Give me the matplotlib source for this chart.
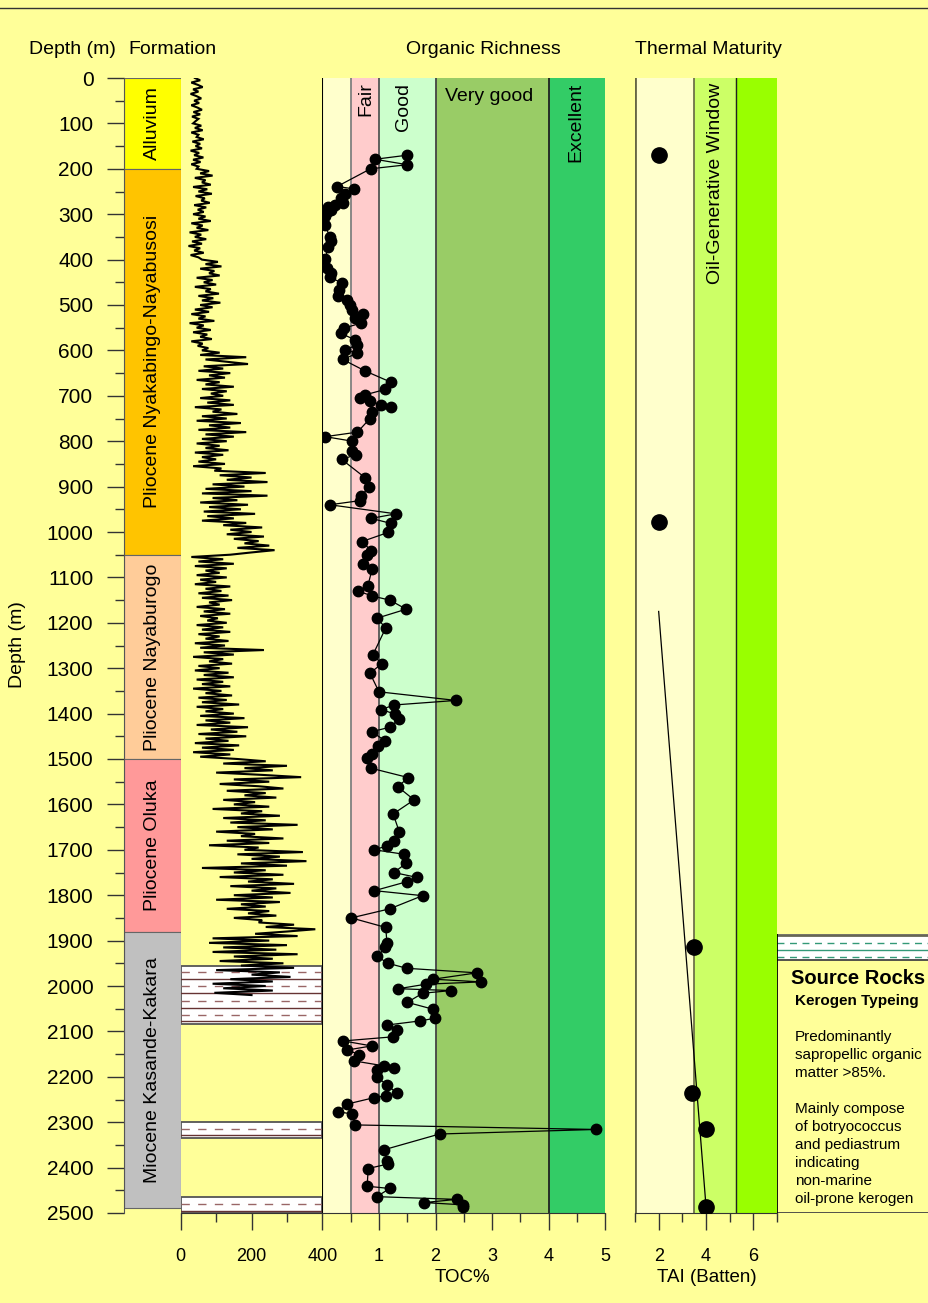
import matplotlib.pyplot as plt
from matplotlib.lines import Line2D
import numpy as np

plt.rcParams['font.family'] = ['Liberation Sans', 'DejaVu Sans']

BG = '#FFFF99'
W, H = 929, 1303

# formations (depth in m)
formation_names = ['Alluvium', 'Pliocene Nyakabingo-Nayabusosi', 'Pliocene Nayaburogo',
                   'Pliocene Oluka', 'Miocene Kasande-Kakara']
formation_top = [0, 200, 1050, 1500, 1880]
formation_base = [200, 1050, 1500, 1880, 2490]
formation_colors = ['#FFFF00', '#FFC400', '#FFCC99', '#FF9999', '#C0C0C0']

# gamma ray log, API, sampled every 5 m from surface
gr_start = 0
gr_step = 5
gr_api = [
    40, 55, 30, 48, 62, 35, 50, 28, 45, 58, 38, 52, 30, 47, 60, 36, 55, 32, 50, 42,
    35, 58, 40, 62, 30, 50, 45, 65, 33, 55, 42, 60, 28, 52, 38, 64, 35, 56, 30, 50,
    45, 80, 55, 90, 40, 70, 60, 85, 35, 75, 50, 88, 42, 68, 58, 82, 38, 72, 48, 65,
    35, 70, 50, 85, 30, 62, 45, 78, 25, 58, 40, 72, 32, 60, 22, 55, 38, 65, 28, 50,
    60, 105, 70, 115, 55, 95, 80, 110, 45, 90, 65, 100, 40, 85, 70, 108, 50, 92, 60, 112,
    55, 90, 40, 80, 30, 70, 50, 95, 25, 65, 45, 85, 35, 75, 55, 88, 30, 62, 48, 78,
    60, 110, 55, 185, 70, 130, 190, 65, 120, 50, 140, 80, 125, 45, 110, 70, 150, 60, 130, 85,
    120, 55, 140, 75, 150, 40, 115, 90, 160, 60, 130, 45, 170, 80, 140, 50, 185, 70, 150, 60,
    130, 45, 110, 70, 135, 40, 120, 60, 100, 50, 125, 35, 115, 95, 240, 110, 200, 130, 245, 90,
    180, 70, 200, 60, 245, 90, 160, 55, 190, 80, 170, 65, 210, 75, 150, 60, 185, 120, 230, 140,
    200, 130, 235, 150, 220, 180, 250, 160, 265, 200, 140, 30, 120, 50, 150, 40, 130, 70, 110, 45,
    130, 55, 100, 40, 140, 70, 115, 50, 135, 60, 145, 80, 110, 45, 125, 65, 140, 55, 105, 75,
    130, 45, 120, 60, 140, 50, 110, 70, 135, 40, 125, 55, 235, 65, 150, 35, 120, 80, 145, 50,
    110, 40, 135, 65, 150, 45, 120, 60, 140, 35, 115, 70, 145, 50, 130, 60, 165, 45, 120, 70,
    150, 55, 180, 70, 140, 45, 190, 85, 160, 50, 185, 70, 135, 40, 165, 60, 150, 35, 140, 55,
    160, 240, 120, 300, 180, 260, 100, 230, 340, 150, 250, 110, 220, 290, 130, 240, 180, 270, 120, 210,
    150, 250, 90, 230, 170, 280, 120, 240, 140, 330, 160, 260, 100, 210, 170, 290, 130, 250, 80, 220,
    180, 345, 160, 280, 200, 355, 170, 300, 60, 240, 150, 290, 110, 260, 190, 320, 140, 270, 200, 310,
    150, 260, 100, 280, 170, 240, 130, 250, 190, 270, 150, 230, 220, 320, 240, 380, 300, 210, 330, 90,
    250, 80, 300, 120, 270, 90, 330, 150, 260, 110, 290, 170, 320, 100, 280, 200, 310, 140, 260, 90,
    240, 120, 260, 95, 200,
]

# shale intervals drawn in the log track
shale_top = [1957, 2300, 2465]
shale_base = [2083, 2335, 2500]
shale_dash = [1970, 2000, 2033, 2064, 2315, 2481]
shale_solid = [1985, 2016, 2048, 2078, 2328, 2495]

# total organic carbon
toc_depth = [170, 179, 191, 200, 239, 244, 256, 265, 275, 280, 285, 290, 296, 305, 324,
             350, 360, 372, 399, 419, 429, 439, 451, 467, 480, 490, 500, 510, 520, 529,
             540, 551, 562, 577, 588, 599, 606, 620, 645, 670, 686, 698, 705, 711, 720,
             725, 735, 750, 780, 790, 800, 821, 830, 840, 880, 900, 921, 931, 940, 960,
             970, 981, 1001, 1021, 1041, 1051, 1070, 1081, 1120, 1130, 1141, 1150, 1170,
             1190, 1211, 1271, 1290, 1311, 1352, 1371, 1381, 1391, 1401, 1412, 1430, 1440,
             1460, 1471, 1490, 1498, 1520, 1541, 1561, 1590, 1621, 1661, 1681, 1691, 1700,
             1710, 1730, 1750, 1761, 1770, 1790, 1801, 1830, 1850, 1871, 1906, 1915, 1935,
             1950, 1961, 1971, 1985, 1991, 1996, 2006, 2010, 2016, 2036, 2051, 2071, 2077,
             2086, 2097, 2112, 2121, 2132, 2141, 2151, 2165, 2176, 2181, 2185, 2201, 2217,
             2236, 2242, 2246, 2260, 2277, 2282, 2306, 2316, 2326, 2361, 2385, 2392, 2402,
             2441, 2446, 2464, 2470, 2477, 2482, 2487]
toc_pct = [1.50, 0.93, 1.50, 0.85, 0.26, 0.55, 0.40, 0.32, 0.37, 0.22, 0.10, 0.16, 0.08, 0.05, 0.05,
           0.13, 0.16, 0.10, 0.05, 0.09, 0.16, 0.13, 0.34, 0.30, 0.28, 0.43, 0.49, 0.53, 0.71, 0.58,
           0.68, 0.38, 0.32, 0.58, 0.61, 0.40, 0.62, 0.36, 0.75, 1.21, 1.11, 0.75, 0.66, 0.84, 1.03,
           1.21, 0.87, 0.84, 0.62, 0.05, 0.53, 0.52, 0.59, 0.34, 0.75, 0.82, 0.69, 0.66, 0.13, 1.30,
           0.86, 1.21, 1.16, 0.70, 0.86, 0.78, 0.72, 0.88, 0.80, 0.63, 0.88, 1.19, 1.48,
           0.96, 1.12, 0.89, 1.05, 0.84, 1.00, 2.36, 1.27, 1.04, 1.28, 1.36, 1.19, 0.87,
           1.11, 0.99, 0.87, 0.78, 0.85, 1.52, 1.33, 1.62, 1.25, 1.36, 1.26, 1.15, 0.92,
           1.45, 1.48, 1.26, 1.68, 1.50, 0.92, 1.77, 1.19, 0.51, 1.12, 1.14, 1.11, 0.97,
           1.16, 1.49, 2.73, 1.96, 2.80, 1.83, 1.34, 2.28, 1.77, 1.50, 1.95, 1.99, 1.72,
           1.14, 1.31, 1.24, 0.37, 0.87, 0.44, 0.65, 0.56, 1.09, 1.27, 0.97, 0.96, 1.14,
           1.31, 1.12, 0.91, 0.44, 0.28, 0.53, 0.58, 4.83, 2.07, 1.08, 1.15, 1.16, 0.81,
           0.79, 1.19, 0.96, 2.37, 1.80, 2.48, 2.48]

toc_edges = [0, 0.5, 1, 2, 4, 5]
toc_colors = ['#FFFFCC', '#FFCCCC', '#CCFFCC', '#99CC66', '#33CC66']
toc_lines = ['#808080', '#555555', '#444444', '#222222']

# thermal alteration index
tai_depth = [170, 978, 1914, 2236, 2315, 2487]
tai_value = [2.0, 2.0, 3.5, 3.4, 4.0, 4.0]
tai_trend_depth = [1175, 2485]
tai_trend_value = [2.0, 4.0]
tai_edges = [1, 3.5, 5.25, 7]
tai_colors = ['#FFFFCC', '#CCFF66', '#99FF00']

source_notes = ['Predominantly', 'sapropellic organic', 'matter >85%.', '',
                'Mainly compose', 'of botryococcus', 'and pediastrum', 'indicating',
                'non-marine', 'oil-prone kerogen']

fig = plt.figure(figsize=(W / 100, H / 100), dpi=100, facecolor=BG)


def track(x0, x1, y0=78, y1=1213):
    ax = fig.add_axes([x0 / W, 1 - y1 / H, (x1 - x0) / W, (y1 - y0) / H])
    ax.set_facecolor('none')
    ax.set_ylim(2500, 0)
    for s in ax.spines.values():
        s.set_visible(False)
    return ax


def bottom_ticks(ax, major, labels, minor):
    ax.set_yticks([])
    ax.set_xticks(major)
    ax.set_xticklabels(labels)
    ax.set_xticks(minor, minor=True)
    ax.tick_params(axis='x', which='major', length=12, width=1, pad=13,
                   labelsize=13, color='#333333')
    ax.tick_params(axis='x', which='minor', length=6.5, width=1, color='#333333')
    ax.spines['bottom'].set_visible(True)
    ax.spines['bottom'].set_color('#333333')
    ax.spines['bottom'].set_linewidth(0.8)


# depth + formation column
ax_f = track(124, 180.7)
ax_f.set_xlim(0, 1)
ax_f.bar(0.5, np.subtract(formation_base, formation_top), bottom=formation_top, width=1,
         color=formation_colors, edgecolor='#666666', linewidth=0.8)
for name, top, base in zip(formation_names, formation_top, formation_base):
    ax_f.text(0.5, (top + base) / 2, name, rotation=90, ha='center', va='center', fontsize=14)
ax_f.set_xticks([])
ax_f.set_yticks(np.arange(0, 2501, 100))
ax_f.set_yticks(np.arange(0, 2501, 50), minor=True)
ax_f.tick_params(axis='y', which='major', length=12, width=1, pad=10, labelsize=15,
                 color='#333333')
ax_f.tick_params(axis='y', which='minor', length=6.5, width=1, color='#333333')
ax_f.spines['left'].set_visible(True)
ax_f.spines['left'].set_color('#555555')

# gamma ray track
ax_g = track(180.7, 322.4)
ax_g.set_xlim(0, 400)
gr_depth = gr_start + gr_step * np.arange(len(gr_api))
for top, base in zip(shale_top, shale_base):
    ax_g.axhspan(top, base, facecolor='white', edgecolor='#555555', linewidth=1.3, zorder=1)
for d in shale_dash:
    ax_g.axhline(d, color='#996666', linestyle=(0, (6, 6)), linewidth=1, zorder=1.5)
for d in shale_solid:
    ax_g.axhline(d, color='#663333', linewidth=1, zorder=1.5)
ax_g.plot(gr_api, gr_depth, color='black', linewidth=1.5, solid_joinstyle='miter', zorder=3)
bottom_ticks(ax_g, [0, 200, 400], ['0', '200', '400'], [100, 300])

# organic richness track
ax_t = track(322.4, 605.4)
ax_t.set_xlim(0, 5)
for lo, hi, c in zip(toc_edges[:-1], toc_edges[1:], toc_colors):
    ax_t.axvspan(lo, hi, color=c, zorder=0)
for x, c in zip(toc_edges[1:-1], toc_lines):
    ax_t.axvline(x, color=c, linewidth=1.3, zorder=0.5)
ax_t.axvline(0, color='black', linewidth=1.5, zorder=0.5)
ax_t.text(0.77, 10, 'Fair', rotation=90, ha='center', va='top', fontsize=14)
ax_t.text(1.44, 10, 'Good', rotation=90, ha='center', va='top', fontsize=14)
ax_t.text(2.95, 40, 'Very good', ha='center', va='center', fontsize=14)
ax_t.text(4.47, 10, 'Excellent', rotation=90, ha='center', va='top', fontsize=14)
ax_t.plot(toc_pct, toc_depth, '-o', color='black', linewidth=0.9, markersize=7.5, zorder=3)
bottom_ticks(ax_t, [1, 2, 3, 4, 5], ['1', '2', '3', '4', '5'],
             [0.5, 1.5, 2.5, 3.5, 4.5])

# thermal maturity track
ax_m = track(635, 777)
ax_m.set_xlim(1, 7)
for lo, hi, c in zip(tai_edges[:-1], tai_edges[1:], tai_colors):
    ax_m.axvspan(lo, hi, color=c, zorder=0)
ax_m.axvline(tai_edges[1], color='#666644', linewidth=1.2, zorder=0.5)
ax_m.axvline(tai_edges[2], color='#222222', linewidth=1, zorder=0.5)
ax_m.axvline(1, color='#666644', linewidth=2, zorder=0.5)
ax_m.text(4.42, 10, 'Oil-Generative Window', rotation=90, ha='center', va='top', fontsize=14)
ax_m.plot(tai_trend_value, tai_trend_depth, color='black', linewidth=0.9, zorder=2)
ax_m.plot(tai_value, tai_depth, 'o', color='black', markersize=11, zorder=3)
bottom_ticks(ax_m, [2, 4, 6], ['2', '4', '6'], [1, 3, 5, 7])

# source rock note box
ax_s = fig.add_axes([777 / W, 1 - 1213 / H, 155 / W, (1213 - 934) / H])
ax_s.set_xlim(777, 932)
ax_s.set_ylim(1213, 934)
ax_s.axis('off')
ax_s.axhspan(934, 960, facecolor='white', edgecolor='none')
ax_s.axhline(934.5, color='#666655', linewidth=2)
ax_s.axhline(943, color='#339977', linestyle=(0, (5, 4)), linewidth=1)
ax_s.axhline(950, color='#339977', linewidth=1)
ax_s.axhline(957, color='#339977', linestyle=(0, (5, 4)), linewidth=1)
ax_s.axhline(960, color='#444444', linewidth=1.3)
ax_s.axhline(1212.5, color='#444444', linewidth=1.3)
ax_s.axvline(777.5, color='black', linewidth=1.3)
ax_s.text(791, 979, 'Source Rocks', fontsize=14.5, fontweight='bold', va='center')
ax_s.text(795, 1001, 'Kerogen Typeing', fontsize=11, fontweight='bold', va='center')
for i, line in enumerate(source_notes):
    ax_s.text(795, 1037 + 18 * i, line, fontsize=11, va='center')

# headers and axis titles
for label, x in [('Depth (m)', 72), ('Formation', 172), ('Organic Richness', 483),
                 ('Thermal Maturity', 708)]:
    fig.text(x / W, 1 - 49 / H, label, ha='center', va='center', fontsize=14)
fig.text(18 / W, 1 - 645 / H, 'Depth (m)', rotation=90, ha='center', va='center', fontsize=14)
fig.text(462 / W, 1 - 1278 / H, 'TOC%', ha='center', va='center', fontsize=13.5)
fig.text(707 / W, 1 - 1278 / H, 'TAI (Batten)', ha='center', va='center', fontsize=13.5)
fig.add_artist(Line2D([0, 1], [1 - 8 / H, 1 - 8 / H], color='#333333', linewidth=1))

fig.savefig('out.png', dpi=100, facecolor=BG)
